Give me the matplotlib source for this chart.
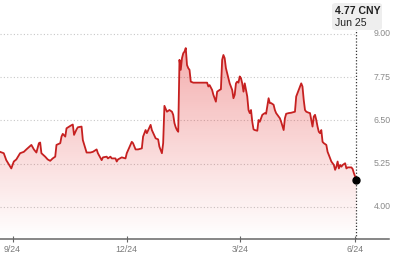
import numpy as np
import pandas as pd
import matplotlib
matplotlib.use("Agg")
import matplotlib.pyplot as plt
import matplotlib.dates as mdates
from matplotlib.patches import FancyBboxPatch

plt.rcParams["font.family"] = ["Liberation Sans", "DejaVu Sans"]

# First date on the chart; price dates are given as days after it
START_DATE = "2024-09-14"

days = [0, 3, 5, 9, 11, 13, 16, 19, 21, 25, 27, 29, 31, 32, 33, 36, 38, 40, 42, 44,
        45, 48, 49, 50, 52, 53, 56, 58, 59, 61, 62, 65, 66, 69, 72, 74, 77,
        78, 81, 82, 85, 86, 88, 89, 92, 93, 94, 97, 100, 101, 105, 106, 108, 110, 113,
        114, 116, 117, 120, 121, 124, 126, 127, 129, 130, 131, 133, 135, 137, 138, 139,
        140, 141, 142,
        143, 144, 145, 146, 147, 148, 149, 150, 151, 152, 154, 159, 165, 166, 167, 169,
        170, 172, 173, 175, 176, 177, 178, 179, 180, 181, 182, 183, 185, 186, 187, 188,
        189, 190, 191, 192, 193, 194, 195, 196, 197, 198, 199, 200, 201, 202, 203, 205,
        206, 207, 208, 209, 211, 212, 214, 215, 216, 218, 219, 220, 223, 224, 226, 227,
        228, 230, 232, 235, 236, 238, 240, 241, 242, 243, 244, 246, 247, 248, 249, 250,
        251, 252, 253, 254, 255, 256, 257, 258, 260, 261, 262, 264, 266, 267, 268, 269,
        270, 271, 272, 273, 275, 276, 277, 280, 281, 282, 284]

prices = [5.59, 5.55, 5.35, 5.11, 5.31, 5.37, 5.55, 5.59, 5.66, 5.79, 5.66, 5.57, 5.84, 5.86,
          5.55, 5.45, 5.37, 5.33, 5.40, 5.45, 5.79, 5.84, 6.03, 6.11, 6.03, 6.27, 6.34, 6.38,
          6.08, 6.24, 6.30, 6.32, 5.93, 5.57, 5.57, 5.59, 5.66,
          5.55, 5.35, 5.43, 5.45, 5.40, 5.45, 5.40, 5.40, 5.31, 5.37, 5.43, 5.40, 5.55, 5.88,
          5.84, 5.66, 5.66, 5.69, 6.03, 6.22, 6.13, 6.37, 6.22, 5.98, 5.95, 5.74, 5.55, 5.84,
          6.92, 6.75, 6.80, 6.75, 6.66, 6.42, 6.30, 6.22, 6.17,
          8.25, 7.96, 8.30, 8.44, 8.49, 8.59, 8.10, 8.01, 7.96, 7.62, 7.59, 7.59, 7.59, 7.48,
          7.52, 7.38, 7.24, 7.04, 7.33, 7.38, 7.40, 8.25, 8.39, 8.30, 8.01, 7.86, 7.72, 7.57,
          7.38, 7.14, 7.24, 7.57, 7.62, 7.59, 7.77, 7.72, 7.57, 7.33, 7.57, 7.38, 7.19, 6.80,
          6.71, 6.80, 6.46, 6.24, 6.22, 6.20, 6.51, 6.46, 6.56, 6.66, 6.71, 6.69, 7.14, 7.00,
          7.00, 6.95, 6.80, 6.71, 6.56, 6.46, 6.22, 6.56, 6.69, 6.71, 6.72, 6.75, 7.19, 7.38,
          7.57, 7.48, 7.09, 6.80, 6.75, 6.72, 6.71, 6.51, 6.32, 6.61, 6.66, 6.51, 6.32, 6.17,
          6.13, 6.22, 5.88, 5.84, 5.79, 5.59, 5.50, 5.31, 5.21, 5.07, 5.16, 5.31, 5.11, 5.21,
          5.16, 5.21, 5.26, 5.11, 5.14, 5.14, 5.09, 4.97, 4.77]

y_ticks = [9.00, 7.75, 6.50, 5.25, 4.00]
x_tick_dates = ["2024-09-24", "2024-12-24", "2025-03-24", "2025-06-24"]
x_tick_labels = ["9/24", "12/24", "3/24", "6/24"]

last_value_label = "4.77 CNY"
last_date_label = "Jun 25"

LINE_COLOR = "#c62020"
Y_MIN, Y_MAX = 3.07, 9.98

start = pd.Timestamp(START_DATE)
dates = start + pd.to_timedelta(days, unit="D")
xs = mdates.date2num(dates)
x_left = mdates.date2num(start)
x_right = mdates.date2num(start + pd.Timedelta(days=318.7))
x_axis_end = mdates.date2num(start + pd.Timedelta(days=310))

fig = plt.figure(figsize=(4, 2.6), dpi=100)
ax = fig.add_axes([0, 0.0808, 1, 0.9192])

# Gradient fill under the line
poly = ax.fill_between(xs, prices, Y_MIN, color="none", linewidth=0)
grad = np.zeros((256, 1, 4))
grad[..., 0] = 0.88
grad[..., 1] = 0.12
grad[..., 2] = 0.12
grad[..., 3] = np.linspace(0.36, 0.0, 256).reshape(-1, 1)
im = ax.imshow(grad, aspect="auto", origin="upper",
               extent=[xs[0], xs[-1], Y_MIN, max(prices)], zorder=1)
im.set_clip_path(poly.get_paths()[0], transform=ax.transData)

# Dotted grid lines up to the last point
ax.hlines(y_ticks, x_left, xs[-1], colors="#c8c8c8", linestyles=(0, (1, 2)),
          linewidth=0.8, zorder=0)

ax.plot(xs, prices, color=LINE_COLOR, linewidth=1.3, zorder=3)

# Marker at the latest price and the crosshair line
ax.vlines(xs[-1], Y_MIN, 9.2, colors="#333333", linestyles=(0, (1, 1.5)),
          linewidth=0.9, zorder=2)
ax.plot(xs[-1], prices[-1], "o", color="black", markersize=5, zorder=5)

for v in y_ticks:
    ax.text(0.955, v, f"{v:.2f}", transform=ax.get_yaxis_transform(),
            ha="center", va="center", fontsize=6.3, color="#8a8a8a")

ax.set_xlim(x_left, x_right)
ax.set_ylim(Y_MIN, Y_MAX)

for side in ["top", "right", "left"]:
    ax.spines[side].set_visible(False)
ax.spines["bottom"].set_bounds(x_left, x_axis_end)
ax.spines["bottom"].set_color("#666666")
ax.spines["bottom"].set_linewidth(1.1)

ax.set_yticks([])
ax.set_xticks(mdates.date2num(pd.to_datetime(x_tick_dates)))
ax.set_xticklabels(x_tick_labels)
ax.tick_params(axis="x", direction="inout", length=4, width=0.8, color="#666666",
               labelsize=6.3, labelcolor="#7a7a7a", pad=2)
ax.patch.set_alpha(0)

# Tooltip box with the last value
box = FancyBboxPatch((332 / 400, 1 - 30 / 260), 50 / 400, 27 / 260,
                     boxstyle="round,pad=0,rounding_size=0.01",
                     transform=fig.transFigure, facecolor="#eeeeee",
                     edgecolor="none", zorder=10)
fig.patches.append(box)
fig.text(335 / 400, 1 - 11.5 / 260, last_value_label, ha="left", va="center",
         fontsize=7.6, fontweight="bold", color="#222222", zorder=11)
fig.text(335 / 400, 1 - 23 / 260, last_date_label, ha="left", va="center",
         fontsize=7.6, color="#222222", zorder=11)

fig.savefig("out.png", dpi=100)
